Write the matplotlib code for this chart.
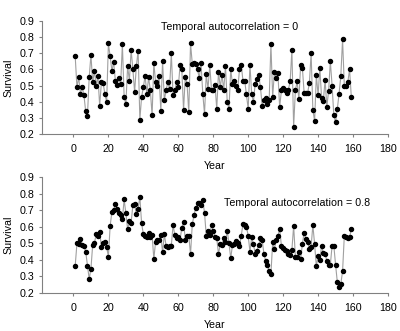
import matplotlib.pyplot as plt
import numpy as np

plt.rcParams['font.family'] = ['Liberation Sans', 'DejaVu Sans']

years = np.arange(1, 160)

# survival, temporal autocorrelation = 0
surv_0 = [0.68, 0.49, 0.55, 0.45, 0.49, 0.44, 0.34, 0.31, 0.55, 0.69,
          0.52, 0.59, 0.50, 0.56, 0.375, 0.52, 0.515, 0.445, 0.40, 0.76,
          0.68, 0.59, 0.645, 0.53, 0.505, 0.545, 0.51, 0.755, 0.43, 0.385,
          0.62, 0.53, 0.72, 0.60, 0.46, 0.62, 0.715, 0.29, 0.43, 0.49,
          0.56, 0.45, 0.55, 0.47, 0.315, 0.64, 0.52, 0.50, 0.56, 0.345,
          0.65, 0.41, 0.47, 0.52, 0.48, 0.70, 0.44, 0.47, 0.52, 0.49,
          0.625, 0.60, 0.35, 0.555, 0.51, 0.335, 0.76, 0.635, 0.64, 0.635,
          0.60, 0.545, 0.64, 0.45, 0.325, 0.57, 0.48, 0.625, 0.475, 0.47,
          0.505, 0.355, 0.585, 0.49, 0.565, 0.475, 0.62, 0.40, 0.355, 0.60,
          0.51, 0.53, 0.50, 0.47, 0.60, 0.63, 0.53, 0.53, 0.445, 0.355,
          0.63, 0.445, 0.40, 0.51, 0.54, 0.565, 0.49, 0.375, 0.41, 0.425,
          0.385, 0.41, 0.755, 0.43, 0.585, 0.545, 0.575, 0.365, 0.47, 0.485,
          0.475, 0.455, 0.475, 0.525, 0.72, 0.245, 0.47, 0.525, 0.415, 0.625,
          0.61, 0.455, 0.455, 0.455, 0.515, 0.70, 0.35, 0.28, 0.565, 0.44,
          0.61, 0.42, 0.405, 0.535, 0.37, 0.465, 0.65, 0.50, 0.315, 0.275,
          0.355, 0.45, 0.56, 0.785, 0.50, 0.50, 0.52, 0.60, 0.43]

# survival, temporal autocorrelation = 0.8
surv_08 = [0.364, 0.50, 0.495, 0.525, 0.49, 0.485, 0.45, 0.365, 0.285, 0.345,
           0.49, 0.50, 0.555, 0.545, 0.57, 0.48, 0.50, 0.505, 0.475, 0.42,
           0.605, 0.69, 0.70, 0.74, 0.71, 0.68, 0.67, 0.645, 0.765, 0.68,
           0.585, 0.635, 0.625, 0.73, 0.735, 0.675, 0.71, 0.78, 0.62, 0.555,
           0.545, 0.535, 0.565, 0.535, 0.55, 0.405, 0.51, 0.52, 0.52, 0.55,
           0.445, 0.555, 0.485, 0.475, 0.485, 0.485, 0.61, 0.55, 0.53, 0.535,
           0.52, 0.595, 0.63, 0.52, 0.545, 0.545, 0.435, 0.615, 0.67, 0.715,
           0.745, 0.745, 0.73, 0.76, 0.685, 0.545, 0.575, 0.55, 0.61, 0.575,
           0.535, 0.53, 0.435, 0.495, 0.49, 0.53, 0.505, 0.575, 0.50, 0.41,
           0.49, 0.495, 0.515, 0.50, 0.485, 0.545, 0.615, 0.61, 0.60, 0.545,
           0.45, 0.535, 0.495, 0.435, 0.455, 0.49, 0.53, 0.52, 0.435, 0.395,
           0.37, 0.33, 0.315, 0.505, 0.465, 0.52, 0.545, 0.585, 0.485, 0.47,
           0.46, 0.455, 0.435, 0.43, 0.46, 0.605, 0.42, 0.42, 0.445, 0.405,
           0.495, 0.565, 0.525, 0.505, 0.465, 0.48, 0.61, 0.495, 0.36, 0.425,
           0.40, 0.485, 0.44, 0.435, 0.395, 0.37, 0.37, 0.485, 0.485, 0.37,
           0.265, 0.235, 0.255, 0.33, 0.545, 0.535, 0.53, 0.535, 0.585]

labels = ['Temporal autocorrelation = 0', 'Temporal autocorrelation = 0.8']

fig = plt.figure(figsize=(4, 3.31), dpi=100)
ax1 = fig.add_axes([0.105, 0.595, 0.865, 0.342])
ax2 = fig.add_axes([0.105, 0.115, 0.865, 0.35])

for ax, data, lab, tx, ty in [(ax1, surv_0, labels[0], 0.543, 0.95),
                              (ax2, surv_08, labels[1], 0.737, 0.776)]:
    ax.plot(years, data, color='#a0a0a0', lw=0.8, marker='o', ms=2.9,
            mfc='black', mec='black', zorder=3)
    ax.set_xlim(-18, 180)
    ax.set_ylim(0.2, 0.9)
    ax.set_xticks(np.arange(0, 181, 20))
    ax.set_yticks(np.arange(0.2, 0.91, 0.1))
    ax.set_yticklabels(['%.1f' % v for v in np.arange(0.2, 0.91, 0.1)])
    ax.spines['top'].set_visible(False)
    ax.spines['right'].set_visible(False)
    ax.spines['left'].set_color('#808080')
    ax.spines['bottom'].set_color('#808080')
    ax.tick_params(labelsize=7.7, length=2.5, width=0.8, color='#808080')
    ax.tick_params(axis='x', pad=4.5)
    ax.tick_params(axis='y', pad=3)
    ax.set_ylabel('Survival', fontsize=7.7, labelpad=4)
    ax.set_xlabel('Year', fontsize=7.7, labelpad=5)
    ax.text(tx, ty, lab, transform=ax.transAxes,
            fontsize=7.7, ha='center', va='center')

fig.savefig('out.png', dpi=100)
